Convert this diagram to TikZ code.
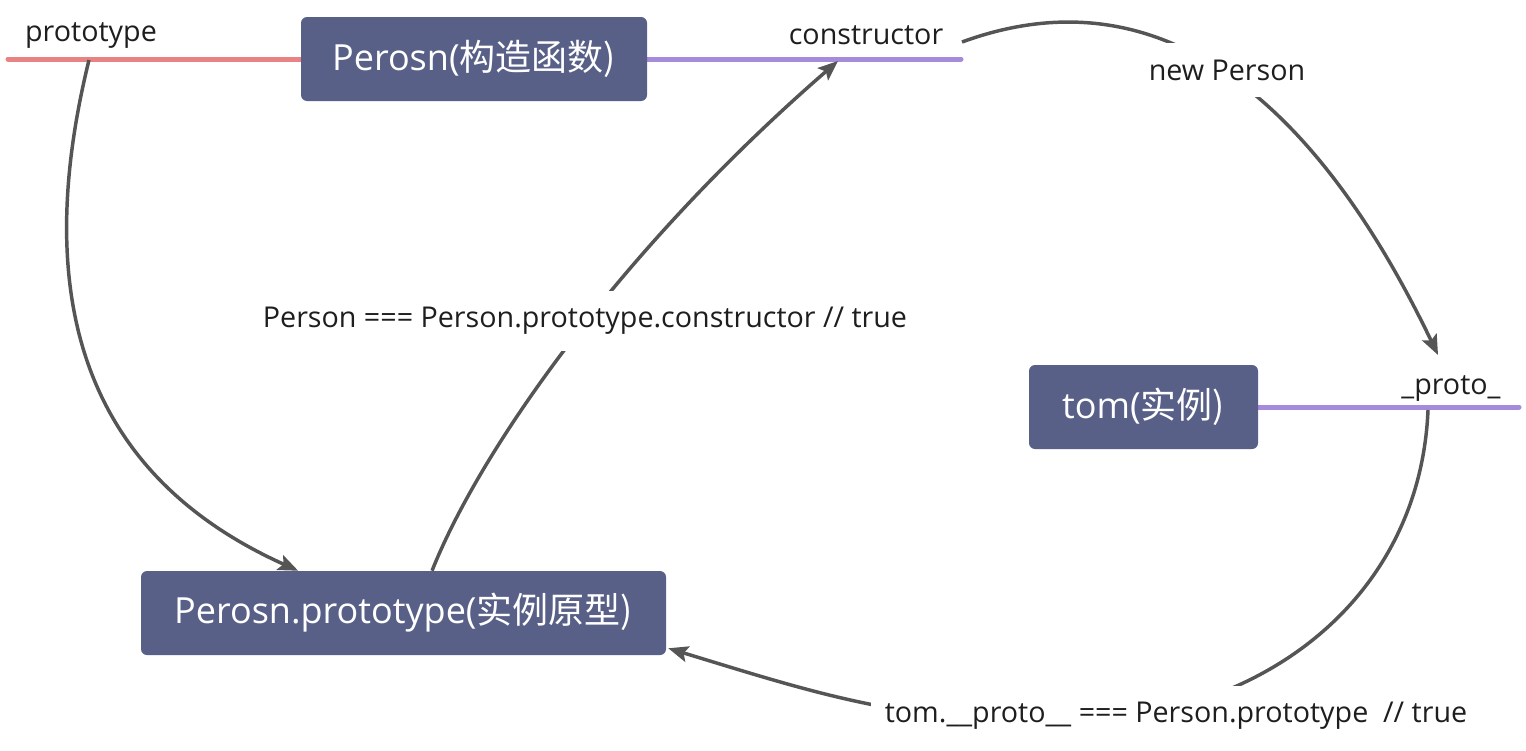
\documentclass[tikz,border=0pt]{standalone}
\usepackage{fontspec}
\setmainfont{Open Sans}
\newfontfamily\cjk{Noto Sans CJK SC}
\usetikzlibrary{arrows.meta}
\definecolor{boxfill}{HTML}{596088}
\definecolor{redline}{HTML}{E88283}
\definecolor{purpline}{HTML}{A68ADC}
\definecolor{conncol}{HTML}{555555}
\definecolor{txt}{HTML}{1E1E1E}
\begin{document}
\begin{tikzpicture}[x=0.75pt,y=-0.75pt,
  box/.style={fill=boxfill, rounded corners=4.5pt, text=white,
    font=\fontsize{27}{30}\selectfont, inner sep=0pt, minimum height=63pt},
  lbl/.style={text=txt, font=\fontsize{21.5}{24}\selectfont, inner sep=0pt},
  cover/.style={lbl, fill=white, inner xsep=10pt, inner ysep=12.5pt},
  conn/.style={draw=conncol, line width=2.6pt,
    -{Stealth[length=15pt,width=12pt,inset=3pt]}},
  bar/.style={line width=3.75pt, line cap=round}]
\useasboundingbox[fill=white] (0,0) rectangle (1526,750);

% free ends of the branch lines
\coordinate (redEnd) at (8,59);
\coordinate (ctorEnd) at (961,59);
\coordinate (tomEnd) at (1519,407);

% branch lines (drawn first, boxes cover their inner ends)
\draw[bar, draw=redline] (redEnd) -- (474,59);
\draw[bar, draw=purpline] (474,59) -- (ctorEnd);
\draw[bar, draw=purpline] (1143.5,407) -- (tomEnd);

% boxes
\node[box, minimum width=259.5pt] (ctor) at (474,59) {Perosn(\cjk{构造函数})};
\node[box, minimum width=393.75pt] (proto) at (403.5,613) {Perosn.prototype(\cjk{实例原型})};
\node[box, minimum width=171.75pt] (tom) at (1143.5,407) {tom(\cjk{实例})};

% connector taps
\coordinate (protoTap) at (89,60);
\coordinate (ctorTap) at (838,61);
\coordinate (ctorOut) at (962,42);
\coordinate (protoIn) at (1438,355);
\coordinate (protoOut) at (1428,410);
\coordinate (bottomMid) at (1060,722);

% connectors
\draw[conn] (protoTap) .. controls (30,300) and (85,475) .. ([xshift=-79pt]proto.north);
\draw[conn] ([xshift=21.4pt]proto.north) .. controls (480,450) and (620,250) .. (ctorTap);
\draw[conn] (ctorOut) .. controls (1178,-37) and (1330,130) .. (protoIn);
\draw[conn] (protoOut) .. controls (1420,600) and (1260,722) .. (bottomMid)
  .. controls (900,722) and (812,692) .. ([xshift=1.5pt,yshift=5.25pt]proto.south east);

% labels
\node[lbl] (lproto) at (91,35) {prototype};
\node[lbl] (lctor) at (866,35) {constructor};
\node[cover] (lnew) at (1227,70) {new Person};
\node[lbl] (lpr) at (1451,388) {\_proto\_};
\node[cover] (leq1) at (585,321) {Person === Person.prototype.constructor // true};
\node[cover] (leq2) at (1176,716) {tom.\_\_proto\_\_ === Person.prototype\ \ // true};
\end{tikzpicture}
\end{document}
